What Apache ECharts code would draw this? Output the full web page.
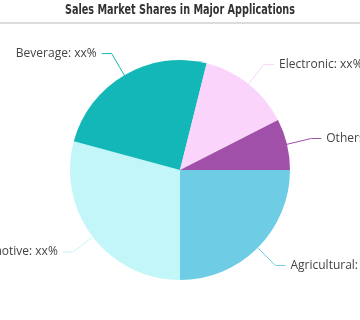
<!DOCTYPE html>
<html><head><meta charset="utf-8">
<script src="https://cdn.jsdelivr.net/npm/echarts@6/dist/echarts.min.js"></script>
<style>html,body{margin:0;padding:0;background:#fff}#c{width:360px;height:320px}</style>
</head><body><div id="c"></div>
<script>
const titleText = 'Sales Market Shares in Major Applications';
const categories = ['Agricultural', 'Automotive', 'Beverage', 'Electronic', 'Others'];
const values = [25, 29.2, 24.7, 13.6, 7.5];
const labels = ['Agricultural: xx%', 'Automotive: xx%', 'Beverage: xx%', 'Electronic: xx%', 'Others'];
const colors = ['#6ecde4', '#c2f6f8', '#14b7b7', '#fad4fa', '#a050a8'];

const titleFont = 'bold 14px "DejaVu Sans Condensed", "DejaVu Sans", sans-serif';
const ctx = document.createElement('canvas').getContext('2d');
ctx.font = titleFont;
const titleScale = 230 / ctx.measureText(titleText).width;

const chart = echarts.init(document.getElementById('c'), null, {renderer: 'canvas'});
chart.setOption({
  animation: false,
  graphic: [
    {type: 'line', shape: {x1: 0, y1: 23, x2: 360, y2: 23}, style: {stroke: '#d0d0d0', lineWidth: 1.5}},
    {type: 'text', x: 180, y: 10, scaleX: titleScale, style: {text: titleText, font: titleFont, fill: '#333', align: 'center', verticalAlign: 'middle'}}
  ],
  series: [{
    type: 'pie', center: [180, 170], radius: 110, startAngle: 0, clockwise: true,
    data: categories.map((c, i) => ({name: c, value: values[i], itemStyle: {color: colors[i]},
      label: {formatter: labels[i]}, labelLine: {lineStyle: {color: colors[i]}}})),
    label: {position: 'outside', color: '#444', fontSize: 12, fontFamily: 'Open Sans', overflow: 'none'},
    labelLine: {length: 25, length2: 10, lineStyle: {width: 1}},
    emphasis: {disabled: true}
  }]
});
</script></body></html>
